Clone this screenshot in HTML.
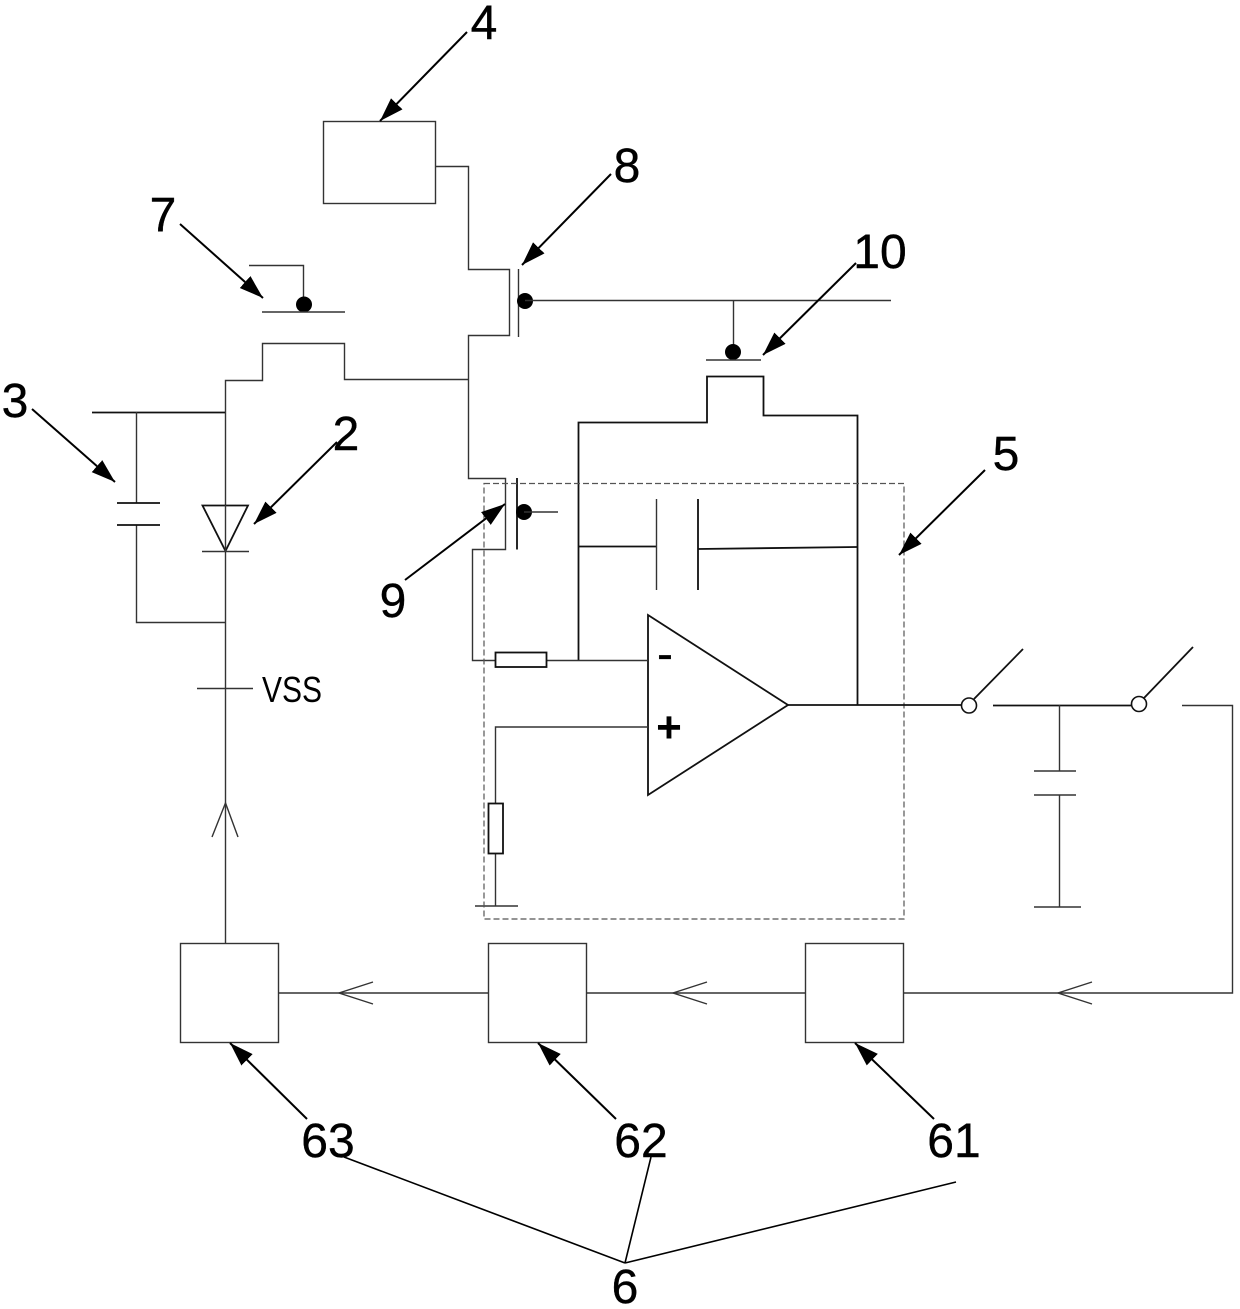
<!DOCTYPE html>
<html lang="en">
<head>
<meta charset="utf-8">
<title>Circuit diagram</title>
<style>
html,body{margin:0;padding:0;background:#fff;width:1240px;height:1309px;overflow:hidden}
svg{display:block}
.w{fill:none;stroke:#333;stroke-width:1.4}
.k{fill:none;stroke:#111;stroke-width:1.8}
.a{fill:none;stroke:#000;stroke-width:2;marker-end:url(#h)}
.l{fill:none;stroke:#000;stroke-width:1.6}
text{font-family:"Liberation Sans",sans-serif;fill:#000}
.n{font-size:48px;text-anchor:middle;stroke:#000;stroke-width:.4}
</style>
</head>
<body>
<svg width="1240" height="1309" viewBox="0 0 1240 1309" xmlns="http://www.w3.org/2000/svg">
<defs>
<marker id="h" markerUnits="userSpaceOnUse" markerWidth="26" markerHeight="18" refX="24" refY="8" orient="auto">
<path d="M0,0 L24,8 L0,16 z" fill="#000"/>
</marker>
</defs>

<!-- block 4 -->
<rect class="w" x="323.5" y="121.5" width="112" height="82"/>
<path class="w" d="M435.500 166.500H468.500V269.500H509.500V335.500H468.500V478.500H505.500V549.500H472.500V660.500H495"/>

<!-- transistor 7 -->
<path class="w" d="M249 265.500H303.500V304"/>
<circle cx="304" cy="304.500" r="8" fill="#000"/>
<path class="w" d="M262 312H345"/>
<path class="w" d="M225.500 943V380.500H262.500V343.500H344.500V379.500H468"/>

<!-- capacitor 3 and diode 2 -->
<path class="k" d="M92 412.500H225"/>
<path class="w" d="M136.500 412V503M136.500 525V622.500H225"/>
<path class="k" d="M117 503H160M117 525H160"/>
<path class="k" d="M202.500 505.500H248L225.500 551z" style="fill:#fff"/>
<path class="w" d="M225.500 505V551"/>
<path class="w" d="M202 551.500H249M197 688.500H253"/>
<text x="262" y="702" font-size="36" textLength="60" lengthAdjust="spacingAndGlyphs">VSS</text>
<path class="w" d="M212 837L225.500 803L238 837"/>

<!-- transistor 8 -->
<path class="w" d="M518.500 269V337"/>
<circle cx="525" cy="301" r="8" fill="#000"/>
<path class="w" d="M525 300.500H891M733.500 301V352"/>

<!-- transistor 10 -->
<circle cx="733" cy="352" r="8" fill="#000"/>
<path class="w" d="M706 360H761"/>
<path class="k" d="M578.500 660V422.500H707V376.500H763.500V415.500H857.500V705"/>

<!-- transistor 9 -->
<path class="k" d="M517 478V549.500"/>
<circle cx="524" cy="512" r="8" fill="#000"/>
<path class="w" d="M524 512H558"/>

<!-- feedback capacitor -->
<path class="k" d="M578 546.500H657M698 549L857 547"/>
<path class="w" d="M656.500 499V590"/>
<path class="k" d="M698 499V590"/>

<!-- opamp -->
<path class="k" d="M648 615L788 705L648 795z"/>
<path class="w" d="M546 660.500H648M495.500 803V727H648M495.500 853V906M475 906H518"/>
<rect class="k" x="495.500" y="652.500" width="51" height="14.500"/>
<rect class="k" x="488.500" y="803.500" width="14.500" height="50"/>
<text x="665" y="670" font-size="48" text-anchor="middle" stroke="#000" stroke-width=".3">-</text>
<text x="669" y="742" font-size="44" font-weight="bold" text-anchor="middle">+</text>

<!-- dashed block 5 -->
<rect x="484" y="483.500" width="420" height="435.500" fill="none" stroke="#555" stroke-width="1.2" stroke-dasharray="6 3"/>

<!-- output and switches -->
<path class="k" d="M788 705H961"/>
<circle cx="969" cy="705.500" r="7.500" fill="#fff" stroke="#111" stroke-width="1.6"/>
<path class="k" d="M974 699L1023 649"/>
<path class="k" d="M993 705.500H1131"/>
<circle cx="1139" cy="704" r="7.500" fill="#fff" stroke="#111" stroke-width="1.6"/>
<path class="k" d="M1144 698L1193 647"/>
<path class="w" d="M1182 705.500H1232.500V993H903"/>
<path class="w" d="M1059.500 705V771M1059.500 795V907M1034 771H1076M1034 795H1076M1034 907H1081"/>

<!-- blocks 61 62 63 -->
<rect class="w" x="180.500" y="943.500" width="98" height="99"/>
<rect class="w" x="488.500" y="943.500" width="98" height="99"/>
<rect class="w" x="805.500" y="943.500" width="98" height="99"/>
<path class="w" d="M278 993H488M586 993H805"/>
<path class="w" d="M373 982L339 993L373 1004M707 982L673 993L707 1004M1092 982L1058 993L1092 1004"/>

<!-- leader arrows -->
<path class="a" d="M467 32L380 121"/>
<path class="a" d="M611 174L522 265"/>
<path class="a" d="M180 224L263 298"/>
<path class="a" d="M856 263L763 355"/>
<path class="a" d="M32 409L115 482"/>
<path class="a" d="M337 442L254 524"/>
<path class="a" d="M405 580L505 504"/>
<path class="a" d="M985 470L899 555"/>
<path class="a" d="M307 1119L230 1043"/>
<path class="a" d="M616 1119L538 1043"/>
<path class="a" d="M934 1119L855 1043"/>
<path class="l" d="M344 1157L625 1263M651 1157L625 1263M956 1182L625 1263"/>

<!-- labels -->
<text class="n" x="484" y="39">4</text>
<text class="n" x="627" y="182">8</text>
<text class="n" x="163" y="231">7</text>
<text class="n" x="880" y="268">10</text>
<text class="n" x="15" y="417">3</text>
<text class="n" x="346" y="450">2</text>
<text class="n" x="393" y="617">9</text>
<text class="n" x="1006" y="470">5</text>
<text class="n" x="328" y="1157">63</text>
<text class="n" x="641" y="1157">62</text>
<text class="n" x="954" y="1157">61</text>
<text class="n" x="625" y="1303">6</text>
</svg>
</body>
</html>
